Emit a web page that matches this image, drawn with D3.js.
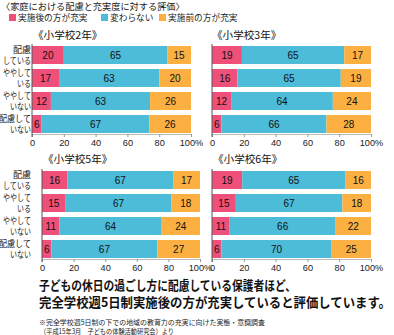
<!DOCTYPE html>
<html>
<head>
<meta charset="utf-8">
<script src="https://cdn.jsdelivr.net/npm/d3@7"></script>
<style>
  body { margin: 0; background: #fff; }
  svg { display: block; font-family: "Noto Sans CJK JP", sans-serif; }
  .num { font-family: "Liberation Sans", Arial, sans-serif; }
</style>
</head>
<body>
<script>
const width = 394;
const height = 335;

// data
const grades = ["小学校2年", "小学校3年", "小学校5年", "小学校6年"];
const rowLabels = [["配慮", "している"], ["ややして", "いる"], ["ややして", "いない"], ["配慮して", "いない"]];
const seriesNames = ["実施後の方が充実", "変わらない", "実施前の方が充実"];
const seriesKeys = ["after", "same", "before"];
const colors = ["#ef5079", "#4dbcd9", "#fcb042"];
// one row per grade, one value per row label
const afterBetter = [[20, 17, 12, 6], [19, 16, 12, 6], [16, 15, 11, 6], [19, 15, 11, 6]];
const noChange = [[65, 63, 63, 67], [65, 65, 64, 66], [67, 67, 64, 67], [65, 67, 66, 70]];
const beforeBetter = [[15, 20, 26, 26], [17, 19, 24, 28], [17, 18, 24, 27], [16, 18, 22, 25]];
const tickValues = [0, 20, 40, 60, 80, 100];

// panel layout
const panels = [
  { x0: 32, x1: 191, top: 46, labels: true, titleX: 33, titleY: 35 },
  { x0: 212, x1: 371, top: 46, labels: false, titleX: 212, titleY: 35 },
  { x0: 42, x1: 200, top: 171, labels: true, titleX: 43, titleY: 159 },
  { x0: 212, x1: 371, top: 171, labels: false, titleX: 213, titleY: 159 }
];

// kana are set narrower than kanji (proportional kana)
const labelWidth = s => Array.from(s).reduce((w, c) => w + (/[\u3040-\u309f]/.test(c) ? 7 : 9), 0);

const svg = d3.select("body").append("svg")
  .attr("width", width)
  .attr("height", height);

// heading + legend
svg.append("text")
  .attr("x", 1).attr("y", 6.5).attr("dy", "0.35em")
  .attr("font-size", 9.2).attr("fill", "#222")
  .text("〈家庭における配慮と充実度に対する評価〉");

const legendX = [9, 101, 159];
const legend = svg.append("g").selectAll("g")
  .data(seriesNames)
  .join("g")
  .attr("transform", (d, i) => `translate(${legendX[i]},17.5)`);
legend.append("rect")
  .attr("x", 0).attr("y", -3.5).attr("width", 7).attr("height", 7)
  .attr("fill", (d, i) => colors[i]);
legend.append("text")
  .attr("x", 9).attr("dy", "0.35em")
  .attr("font-size", 8.7).attr("fill", "#222")
  .text(d => d);

const stack = d3.stack().keys(seriesKeys).offset(d3.stackOffsetExpand);

panels.forEach((p, g) => {
  const rows = rowLabels.map((r, i) => ({
    after: afterBetter[g][i],
    same: noChange[g][i],
    before: beforeBetter[g][i]
  }));
  const series = stack(rows);

  const x = d3.scaleLinear().domain([0, 1]).range([p.x0, p.x1]);
  const xPct = d3.scaleLinear().domain([0, 100]).range([p.x0, p.x1]);
  const y = d3.scaleBand()
    .domain(d3.range(rows.length))
    .range([p.top, p.top + 87])
    .paddingInner(0.217)
    .paddingOuter(0);

  const panel = svg.append("g");

  panel.append("text")
    .attr("x", p.titleX).attr("y", p.titleY).attr("dy", "0.35em")
    .attr("font-size", 10.6).attr("fill", "#111")
    .text(`《${grades[g]}》`);

  const layer = panel.selectAll("g.layer")
    .data(series)
    .join("g")
    .attr("class", "layer")
    .attr("fill", (d, i) => colors[i]);

  layer.selectAll("rect")
    .data(d => d.map((v, i) => ({ v, i })))
    .join("rect")
    .attr("x", d => x(d.v[0]))
    .attr("y", d => y(d.i))
    .attr("width", d => x(d.v[1]) - x(d.v[0]))
    .attr("height", y.bandwidth());

  layer.selectAll("text")
    .data((d, k) => d.map((v, i) => ({ v, i, val: v.data[seriesKeys[k]] })))
    .join("text")
    .attr("class", "num")
    .attr("x", d => (x(d.v[0]) + x(d.v[1])) / 2)
    .attr("y", d => y(d.i) + y.bandwidth() / 2)
    .attr("dy", "0.36em")
    .attr("text-anchor", "middle")
    .attr("font-size", 10)
    .attr("fill", "#111")
    .text(d => d.val);

  const axisY = p.top + 88;
  const axis = panel.append("g")
    .attr("transform", `translate(0,${axisY})`)
    .call(d3.axisBottom(xPct)
      .tickValues(tickValues)
      .tickSize(3)
      .tickSizeOuter(0)
      .tickPadding(2)
      .tickFormat(d => d === 100 ? "100%" : d));
  axis.select(".domain").attr("stroke", "#bbb");
  axis.selectAll(".tick line").attr("stroke", "#999");
  axis.selectAll(".tick text")
    .attr("class", "num")
    .attr("font-size", 9.2)
    .attr("fill", "#222");

  panel.append("line")
    .attr("x1", p.x0).attr("x2", p.x0)
    .attr("y1", p.top - 2).attr("y2", axisY + 3)
    .attr("stroke", "#555").attr("stroke-width", 1);

  if (p.labels) {
    const lab = panel.selectAll("g.rowlab")
      .data(rowLabels)
      .join("g")
      .attr("class", "rowlab");
    lab.selectAll("text")
      .data((d, i) => d.map(t => ({ t, i })))
      .join("text")
      .attr("x", 31)
      .attr("y", (d, j) => y(d.i) + y.bandwidth() / 2 + (j === 0 ? -5 : 5.5))
      .attr("dy", "0.35em")
      .attr("text-anchor", "end")
      .attr("font-size", 9)
      .attr("fill", "#222")
      .attr("textLength", d => labelWidth(d.t))
      .attr("lengthAdjust", "spacingAndGlyphs")
      .text(d => d.t);
  }
});

// summary text
const summary = ["子どもの休日の過ごし方に配慮している保護者ほど、", "完全学校週5日制実施後の方が充実していると評価しています。"];
const summaryLen = [257, 352];
svg.append("g").selectAll("text")
  .data(summary)
  .join("text")
  .attr("x", 39)
  .attr("y", (d, i) => 285 + i * 17)
  .attr("dy", "0.35em")
  .attr("font-size", 13)
  .attr("font-weight", "bold")
  .attr("fill", "#111")
  .attr("textLength", (d, i) => summaryLen[i])
  .attr("lengthAdjust", "spacingAndGlyphs")
  .text(d => d);

const notes = ["※完全学校週5日制の下での地域の教育力の充実に向けた実態・意識調査", "（平成15年3月　子どもの体験活動研究会）より"];
const notesLen = [226, 134];
svg.append("g").selectAll("text")
  .data(notes)
  .join("text")
  .attr("x", (d, i) => i === 0 ? 39 : 40)
  .attr("y", (d, i) => 322.5 + i * 8.8)
  .attr("dy", "0.35em")
  .attr("font-size", 7.1)
  .attr("fill", "#222")
  .attr("textLength", (d, i) => notesLen[i])
  .attr("lengthAdjust", "spacingAndGlyphs")
  .text(d => d);
</script>
</body>
</html>
